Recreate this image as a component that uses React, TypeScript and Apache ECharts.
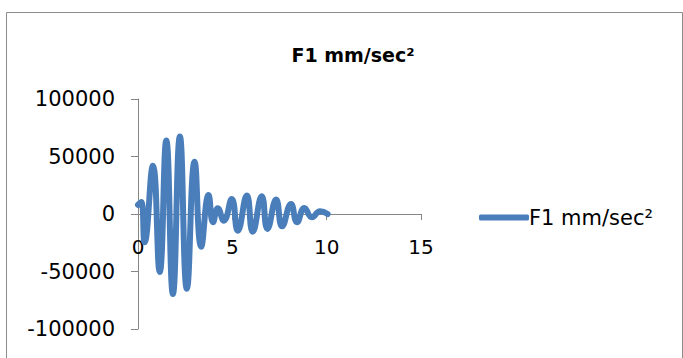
import React, { useEffect, useRef } from "react";
import * as echarts from "echarts";

const title = "F1 mm/sec²";
const seriesName = "F1 mm/sec²";
const times = [0, 0.17, 0.35, 0.79, 1.15, 1.5, 1.85, 2.22, 2.59, 3.0, 3.35, 3.74, 3.98, 4.23, 4.55, 4.97, 5.29, 5.77, 6.08, 6.56, 6.86, 7.32, 7.64, 8.11, 8.43, 8.82, 9.22, 9.65, 10.05];
const values = [8000, 10500, -24500, 42000, -50500, 64000, -69500, 67500, -65000, 45500, -28500, 16500, -7200, 4900, -5800, 13000, -14500, 16000, -15400, 15400, -13000, 12500, -10700, 8700, -7200, 5200, -2900, 2300, 0];
const xTicks = { min: 0, max: 15, interval: 5 };
const yTicks = { min: -100000, max: 100000, interval: 50000 };

export default function App() {
  const ref = useRef<HTMLDivElement>(null);
  useEffect(() => {
    const chart = echarts.init(ref.current!, null, { renderer: "svg" });
    const font = "DejaVu Sans";
    chart.setOption({
      animation: false,
      backgroundColor: "#ffffff",
      graphic: [
        {
          type: "rect",
          shape: { x: 6.5, y: 12.5, width: 676, height: 360 },
          style: { fill: "none", stroke: "#8c8c8c", lineWidth: 1 },
          silent: true,
        },
      ],
      title: {
        text: title,
        left: 348,
        textAlign: "center",
        top: 40,
        textStyle: { fontFamily: font, fontWeight: "bold", fontSize: 19, color: "#000" },
      },
      legend: {
        left: 474,
        top: 202,
        icon: "roundRect",
        itemWidth: 50,
        itemHeight: 6,
        itemGap: 4,
        textStyle: { fontFamily: font, fontSize: 21, color: "#000", padding: [0, 0, 0, -5] },
        data: [seriesName],
      },
      grid: { left: 138, right: 262, top: 99, bottom: 29, containLabel: false, outerBoundsMode: "none" },
      xAxis: {
        type: "value",
        min: xTicks.min,
        max: xTicks.max,
        interval: xTicks.interval,
        offset: -115,
        axisLine: { onZero: false, lineStyle: { color: "#868686", width: 1 } },
        axisTick: { show: true, inside: false, length: 6, lineStyle: { color: "#868686" } },
        axisLabel: { margin: 23, fontFamily: font, fontSize: 20, color: "#000", formatter: (v: number) => String(v) },
        splitLine: { show: false },
      },
      yAxis: {
        type: "value",
        min: yTicks.min,
        max: yTicks.max,
        interval: yTicks.interval,
        axisLine: { show: true, lineStyle: { color: "#868686", width: 1 } },
        axisTick: { show: true, inside: false, length: 7, lineStyle: { color: "#868686" } },
        axisLabel: { margin: 23, fontFamily: font, fontSize: 21, color: "#000", formatter: (v: number) => String(v) },
        splitLine: { show: false },
      },
      series: [
        {
          name: seriesName,
          type: "line",
          data: times.map((t, i) => [t, values[i]]),
          smooth: 0.5,
          showSymbol: false,
          symbol: "none",
          color: "#4a7ebb",
          lineStyle: { width: 6, color: "#4a7ebb", cap: "round", join: "round" },
        },
      ],
    });
    return () => chart.dispose();
  }, []);
  return (
    <div
      ref={ref}
      style={{ position: "fixed", left: 0, top: 0, width: 683, height: 358 }}
    />
  );
}
